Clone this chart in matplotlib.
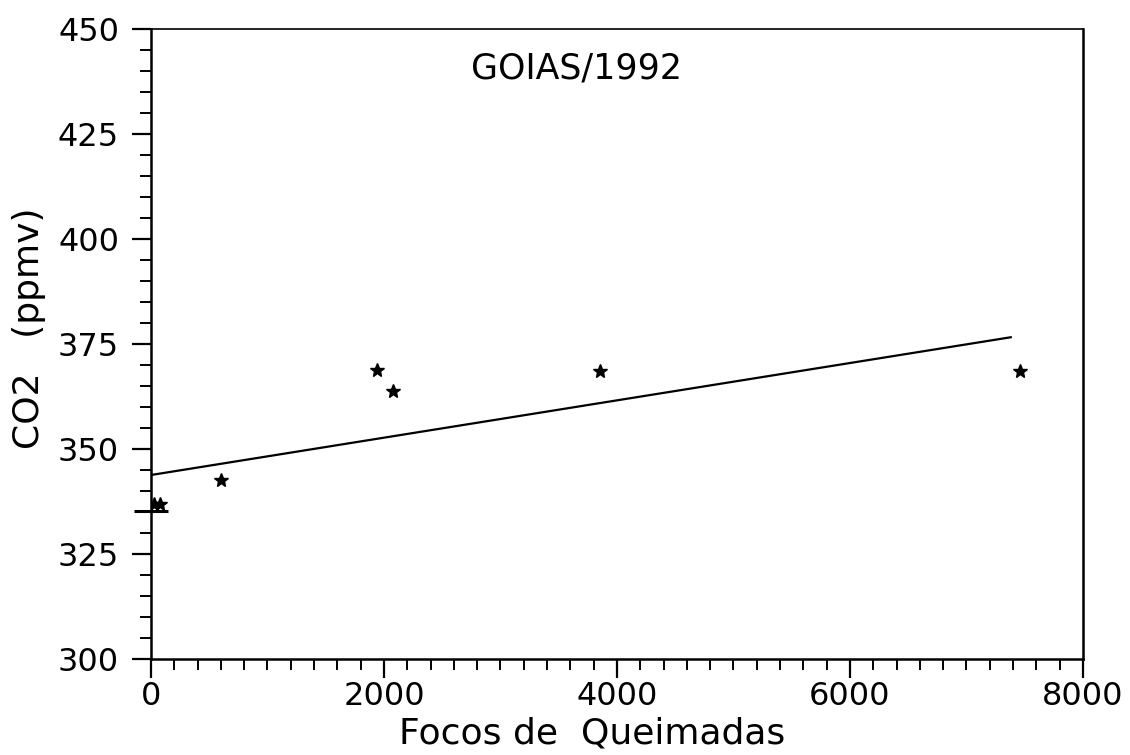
import matplotlib
matplotlib.use("Agg")
import matplotlib.pyplot as plt
from matplotlib.ticker import MultipleLocator

# Data
focos = [30, 80, 600, 1940, 2075, 3850, 7460]
co2 = [337.0, 337.0, 342.6, 368.8, 363.8, 368.6, 368.6]
fit_x = [0, 7380]
fit_y = [343.8, 376.6]
mark_x = [0]
mark_y = [335.3]

title = "GOIAS/1992"
xlabel = "Focos de  Queimadas"
ylabel = "CO2   (ppmv)"
xticks = [0, 2000, 4000, 6000, 8000]
yticks = [300, 325, 350, 375, 400, 425, 450]

plt.rcParams['font.family'] = ['DejaVu Sans']
fig = plt.figure(figsize=(11.3, 7.55), dpi=100)
ax = fig.add_axes([0.1336, 0.1272, 0.9584 - 0.1336, 0.9616 - 0.1272])

ax.plot(fit_x, fit_y, color='black', lw=1.6)
ax.plot(focos, co2, linestyle='none', marker='*', markersize=10, color='black')
ax.plot(mark_x, mark_y, linestyle='none', marker='_', markersize=24, markeredgewidth=2.2, color='black', clip_on=False)

ax.set_xlim(0, 8000)
ax.set_ylim(300, 450)
ax.set_xticks(xticks)
ax.set_yticks(yticks)
ax.xaxis.set_minor_locator(MultipleLocator(200))
ax.yaxis.set_minor_locator(MultipleLocator(5))
ax.tick_params(which='major', direction='out', length=14, width=1.6, labelsize=23, colors='black')
ax.tick_params(which='minor', direction='out', length=8, width=1.4)
ax.tick_params(axis='y', which='major', pad=9)
ax.tick_params(axis='x', which='major', pad=2)
ax.tick_params(top=False, right=False, which='both')

for s in ax.spines.values():
    s.set_linewidth(1.8)
    s.set_color('black')
ax.spines['top'].set_linewidth(1.2)

ax.text(0.457, 0.937, title, transform=ax.transAxes, fontsize=25, ha='center', va='center')
fig.text(592 / 1130, 1 - 733 / 755, xlabel, fontsize=26, ha='center', va='center')
fig.text(29 / 1130, 1 - 328 / 755, ylabel, fontsize=26, ha='center', va='center', rotation=90)

fig.savefig("out.png", dpi=100)
